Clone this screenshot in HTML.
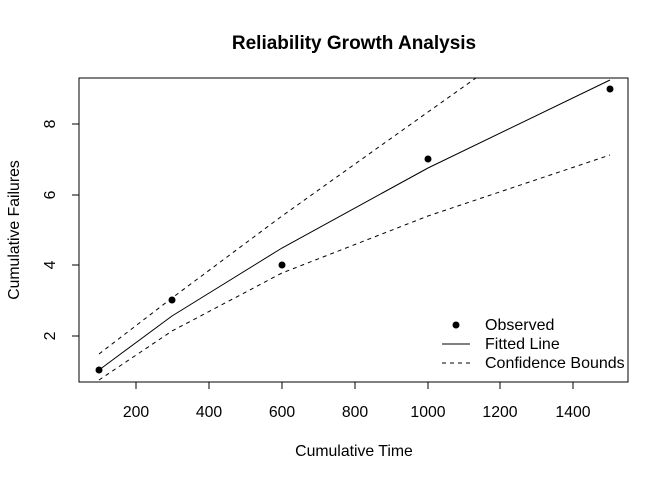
<!DOCTYPE html>
<html><head><style>body{margin:0;background:#fff}</style></head><body>
<svg width="672" height="480" xmlns="http://www.w3.org/2000/svg" font-family="Liberation Sans, Arial, sans-serif">
<rect width="672" height="480" fill="#fff"/>
<text x="354" y="49" text-anchor="middle" font-size="19" font-weight="bold">Reliability Growth Analysis</text>
<rect x="79" y="78" width="549" height="304" fill="none" stroke="#000"/>
<g stroke="#000">
<line x1="136" y1="382" x2="573" y2="382"/>
<line x1="136" y1="382" x2="136" y2="389"/><line x1="209" y1="382" x2="209" y2="389"/><line x1="282" y1="382" x2="282" y2="389"/><line x1="355" y1="382" x2="355" y2="389"/><line x1="428" y1="382" x2="428" y2="389"/><line x1="500" y1="382" x2="500" y2="389"/><line x1="573" y1="382" x2="573" y2="389"/>
<line x1="79" y1="124" x2="79" y2="336"/>
<line x1="72" y1="336" x2="79" y2="336"/><line x1="72" y1="265" x2="79" y2="265"/><line x1="72" y1="195" x2="79" y2="195"/><line x1="72" y1="124" x2="79" y2="124"/>
</g>
<g font-size="15.8" text-anchor="middle">
<text x="136" y="417">200</text><text x="209" y="417">400</text><text x="282" y="417">600</text><text x="355" y="417">800</text><text x="428" y="417">1000</text><text x="500" y="417">1200</text><text x="573" y="417">1400</text>
<text transform="translate(55,336) rotate(-90)">2</text><text transform="translate(55,265) rotate(-90)">4</text><text transform="translate(55,195) rotate(-90)">6</text><text transform="translate(55,124) rotate(-90)">8</text>
<text x="354" y="456">Cumulative Time</text>
<text transform="translate(19,230) rotate(-90)">Cumulative Failures</text>
</g>
<g fill="none" stroke="#000">
<polyline points="99,370 172,316 282,248 428,168 610,80"/>
<polyline stroke-dasharray="4,4" points="99,354 172,298 282,216 428,112 476,78"/>
<polyline stroke-dasharray="4,4" points="99,380 172,331 282,273 428,216 610,155"/>
</g>
<g fill="#000">
<circle cx="99" cy="370" r="3.5"/><circle cx="172" cy="300" r="3.5"/><circle cx="282" cy="265" r="3.5"/><circle cx="428" cy="159" r="3.5"/><circle cx="610" cy="89" r="3.5"/>
<circle cx="456" cy="325" r="3.5"/>
</g>
<line x1="442" y1="344" x2="470" y2="344" stroke="#000"/>
<line x1="442" y1="363" x2="470" y2="363" stroke="#000" stroke-dasharray="4,4"/>
<g font-size="16">
<text x="485" y="330">Observed</text><text x="485" y="349">Fitted Line</text><text x="485" y="368">Confidence Bounds</text>
</g>
</svg>
</body></html>
